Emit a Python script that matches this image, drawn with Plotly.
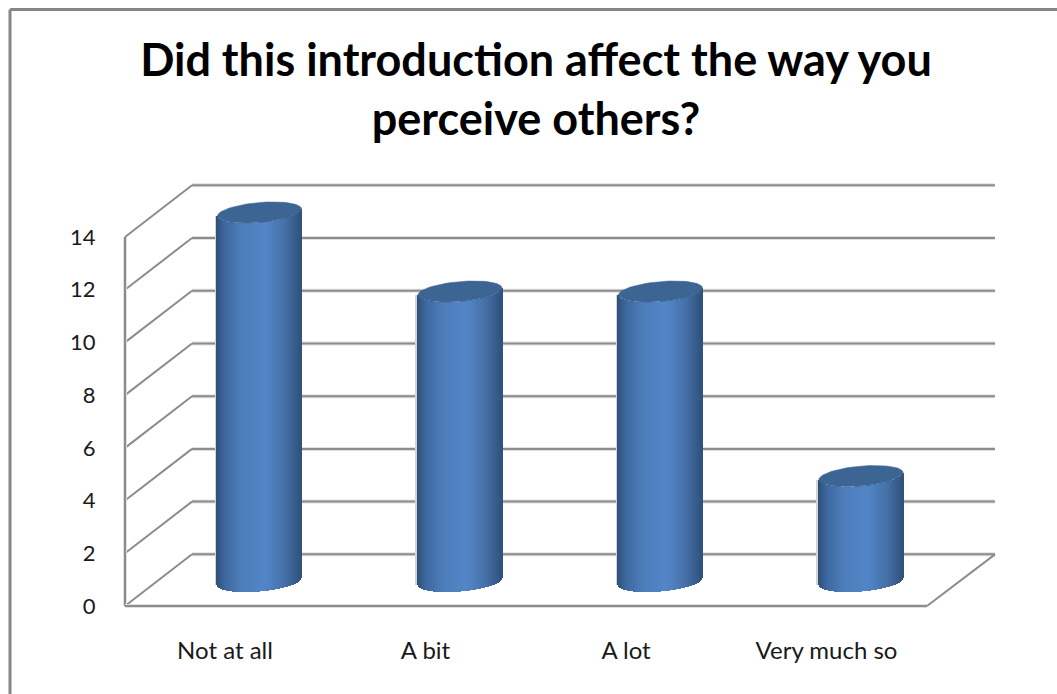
import numpy as np
import plotly.graph_objects as go

categories = ["Not at all", "A bit", "A lot", "Very much so"]
values = [14, 11, 11, 4]
y_ticks = [0, 2, 4, 6, 8, 10, 12, 14]
title_lines = ["Did this introduction affect the way you", "perceive others?"]

W, H = 1057, 694
L, R, B, T = 120, 1000, 610, 180  # plot-area pixel box (a little larger than the walls)
WALL_L = 125
WALL_R = 995
FLOOR = 606
PX_X = 200.5                      # pixels per category
PX_Y = 26.36                      # pixels per value unit
x_min = (WALL_L - 225) / PX_X
x_max = (WALL_R - 225) / PX_X
depth_x = 67 / PX_X
depth_y = 1.96

GRID = "#8c8c8c"
SHADE = "#e0e0e0"
FONT = "Lato, Carlito, sans-serif"

fig = go.Figure()
shapes = []


def seg(x0, y0, x1, y1, color=GRID, width=2):
    shapes.append(dict(type="line", xref="x", yref="y", x0=x0, y0=y0, x1=x1, y1=y1,
                       layer="below", line=dict(color=color, width=width)))


for v in y_ticks:
    seg(x_min + depth_x, v + depth_y, x_max, v + depth_y, SHADE, 4)
    seg(x_min + depth_x, v + depth_y, x_max, v + depth_y)
    seg(x_min, v, x_min + depth_x, v + depth_y)
seg(x_min, 0, x_min, y_ticks[-1], SHADE, 4)
seg(x_min, 0, x_min, y_ticks[-1])
seg(x_min, 0, x_min + len(categories), 0, SHADE, 4)
seg(x_min, 0, x_min + len(categories), 0)
seg(x_min + len(categories), 0, x_max, depth_y)

# cylinder geometry
half_w = 42 / PX_X
shift_x = 34.5 / PX_X
base0 = 24.5 / PX_Y
ell_b = 10 / PX_Y
ell_s = 3.5 / PX_Y

stops_t = [0.0, 0.10, 0.30, 0.58, 0.82, 1.0]
stops_c = [(48, 80, 122), (62, 104, 160), (78, 126, 186), (83, 134, 200), (70, 112, 168), (48, 82, 124)]


def grad(t):
    return "rgb(%d,%d,%d)" % tuple(int(np.interp(t, stops_t, [c[i] for c in stops_c])) for i in range(3))


n = 85
for i, val in enumerate(values):
    cx = i + shift_x
    u = np.linspace(-1, 1, n)
    xs = cx + u * half_w
    bases = base0 + ell_s * u - ell_b * np.sqrt(1 - u ** 2)
    # soft shadow on the left edge
    fig.add_trace(go.Bar(x=[cx - half_w - 1.5 / PX_X], y=[val], base=[base0 - ell_s],
                         width=[2.5 / PX_X], marker=dict(color="#d4d4d4", line_width=0),
                         showlegend=False, hoverinfo="skip", cliponaxis=False))
    fig.add_trace(go.Bar(x=xs, y=[val] * n, base=bases, width=[1.05 / PX_X] * n,
                         marker=dict(color=[grad((a + 1) / 2) for a in u], line_width=0),
                         showlegend=False, hoverinfo="skip", cliponaxis=False))
    th = np.linspace(0, 2 * np.pi, 80)
    ex = cx + half_w * np.cos(th)
    ey = base0 + val + ell_s * np.cos(th) + ell_b * np.sin(th)
    fig.add_trace(go.Scatter(x=ex, y=ey, mode="lines", fill="toself", fillcolor="#3d6593",
                             line=dict(color="#3d6593", width=0.5), showlegend=False,
                             hoverinfo="skip", cliponaxis=False))

shapes.append(dict(type="line", xref="paper", yref="paper", x0=10 / W, x1=1, y0=1 - 9.5 / H, y1=1 - 9.5 / H,
                   line=dict(color="#868686", width=3)))
shapes.append(dict(type="line", xref="paper", yref="paper", x0=10 / W, x1=10 / W, y0=0, y1=1 - 9.5 / H,
                   line=dict(color="#868686", width=3)))

fig.update_layout(
    width=W, height=H, margin=dict(l=0, r=0, t=0, b=0, autoexpand=False),
    paper_bgcolor="white", plot_bgcolor="white", barmode="overlay", bargap=0,
    showlegend=False, shapes=shapes,
    title=dict(text="<b>" + "<br>".join(title_lines) + "</b>", x=536 / W, xanchor="center",
               y=1 - 76 / H, yanchor="top", font=dict(family=FONT, size=45, color="black")),
    xaxis=dict(domain=[L / W, R / W], range=[(L - 225) / PX_X, (R - 225) / PX_X],
               tickvals=list(range(len(categories))), ticktext=categories,
               showgrid=False, zeroline=False, showline=False,
               ticks="outside", ticklen=19, tickcolor="rgba(0,0,0,0)",
               tickfont=dict(family=FONT, size=24, color="#1a1a1a")),
    yaxis=dict(domain=[(H - B) / H, (H - T) / H], range=[(FLOOR - B) / PX_Y, (FLOOR - T) / PX_Y],
               tickvals=y_ticks, showgrid=False, zeroline=False, showline=False,
               ticks="outside", ticklen=19, tickcolor="rgba(0,0,0,0)",
               tickfont=dict(family=FONT, size=22, color="#1a1a1a")),
)

fig.write_html("out.html", post_script="document.body.style.margin='0';",
               config={"displayModeBar": False})
